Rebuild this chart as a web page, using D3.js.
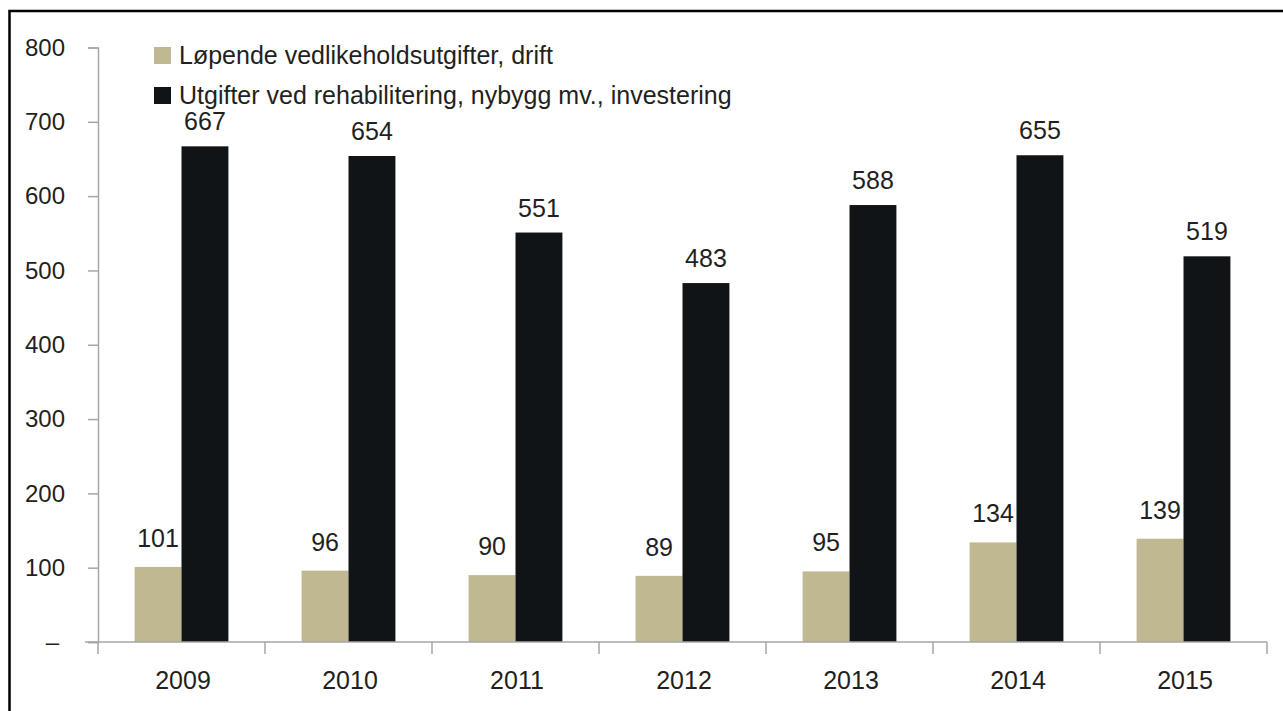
<!DOCTYPE html>
<html lang="no">
<head>
    <meta charset="UTF-8">
    <title>Vedlikeholdsutgifter</title>
    <script src="https://d3js.org/d3.v7.min.js"></script>
    <style>
        body { margin: 0; background: #fff; overflow: hidden; }
        svg { display: block; }
        text {
            font-family: "Liberation Sans", Arial, sans-serif;
            fill: #231f20;
        }
    </style>
</head>
<body>
    <svg width="1283" height="711"></svg>

    <script>
        // Data
        const years = ["2009", "2010", "2011", "2012", "2013", "2014", "2015"];
        const drift = [101, 96, 90, 89, 95, 134, 139];
        const investering = [667, 654, 551, 483, 588, 655, 519];
        const seriesNames = [
            "Løpende vedlikeholdsutgifter, drift",
            "Utgifter ved rehabilitering, nybygg mv., investering"
        ];
        const seriesColors = ["#bfb891", "#111417"];
        const yTicks = [0, 100, 200, 300, 400, 500, 600, 700, 800];

        const rows = years.map((y, i) => ({ year: y, values: [drift[i], investering[i]] }));

        const svg = d3.select("svg");

        // Frame: only the top and left edges show in the picture
        svg.append("path")
            .attr("d", "M9.5,720 V11 H1290")
            .attr("fill", "none")
            .attr("stroke", "#000")
            .attr("stroke-width", 2.5);

        const x0 = d3.scaleBand()
            .domain(years)
            .range([98, 1267]);

        const x1 = d3.scaleBand()
            .domain(seriesNames)
            .range([0, x0.bandwidth()])
            .paddingInner(0)
            .paddingOuter(0.78);

        const y = d3.scaleLinear()
            .domain([0, 800])
            .range([642, 47.5]);

        // Y axis
        const yAxis = svg.append("g")
            .attr("transform", "translate(98,0)")
            .call(d3.axisLeft(y)
                .tickValues(yTicks)
                .tickSize(10)
                .tickPadding(23)
                .tickFormat(d => d === 0 ? "–" : d));
        yAxis.select(".domain").attr("stroke", "#a6a6a6").attr("stroke-width", 1.5);
        yAxis.selectAll(".tick line").attr("stroke", "#a6a6a6").attr("stroke-width", 1.5);
        yAxis.selectAll(".tick text")
            .attr("font-size", "24px")
            .attr("fill", "#231f20");
        // the zero label sits a bit to the left
        yAxis.selectAll(".tick text").filter(d => d === 0).attr("dx", -6);

        // Bars
        const group = svg.append("g")
            .selectAll("g")
            .data(rows)
            .enter().append("g")
            .attr("transform", d => `translate(${x0(d.year)},0)`);

        group.selectAll("rect")
            .data(d => d.values.map((v, i) => ({ key: seriesNames[i], value: v, i })))
            .enter().append("rect")
            .attr("x", d => x1(d.key))
            .attr("y", d => y(d.value))
            .attr("width", x1.bandwidth())
            .attr("height", d => y(0) - y(d.value))
            .attr("fill", d => seriesColors[d.i]);

        // Value labels
        group.selectAll("text.val")
            .data(d => d.values.map((v, i) => ({ key: seriesNames[i], value: v, i })))
            .enter().append("text")
            .attr("class", "val")
            .attr("x", d => x1(d.key) + x1.bandwidth() / 2)
            .attr("y", d => y(d.value) - (d.i === 0 ? 20 : 16))
            .attr("text-anchor", "middle")
            .attr("font-size", "25px")
            .text(d => d.value);

        // X axis
        const xAxis = svg.append("g")
            .attr("transform", `translate(0,${y(0)})`);
        xAxis.append("line")
            .attr("x1", 85)
            .attr("x2", 1267)
            .attr("stroke", "#a6a6a6")
            .attr("stroke-width", 1.5);
        const xEdges = years.map(d => x0(d)).concat([x0.range()[1]]);
        xAxis.selectAll("line.tick")
            .data(xEdges)
            .enter().append("line")
            .attr("class", "tick")
            .attr("x1", d => d)
            .attr("x2", d => d)
            .attr("y1", 0)
            .attr("y2", 12)
            .attr("stroke", "#a6a6a6")
            .attr("stroke-width", 1.5);
        xAxis.selectAll("text")
            .data(years)
            .enter().append("text")
            .attr("x", d => x0(d) + x0.bandwidth() / 2 + 1.5)
            .attr("y", 47)
            .attr("text-anchor", "middle")
            .attr("font-size", "25px")
            .text(d => d);

        // Legend
        const legend = svg.append("g")
            .selectAll("g")
            .data(seriesNames)
            .enter().append("g")
            .attr("transform", (d, i) => `translate(154,${47 + i * 40})`);
        legend.append("rect")
            .attr("width", 17)
            .attr("height", 17)
            .attr("fill", (d, i) => seriesColors[i]);
        legend.append("text")
            .attr("x", 25)
            .attr("y", 17)
            .attr("font-size", "25px")
            .text(d => d);
    </script>
</body>
</html>
